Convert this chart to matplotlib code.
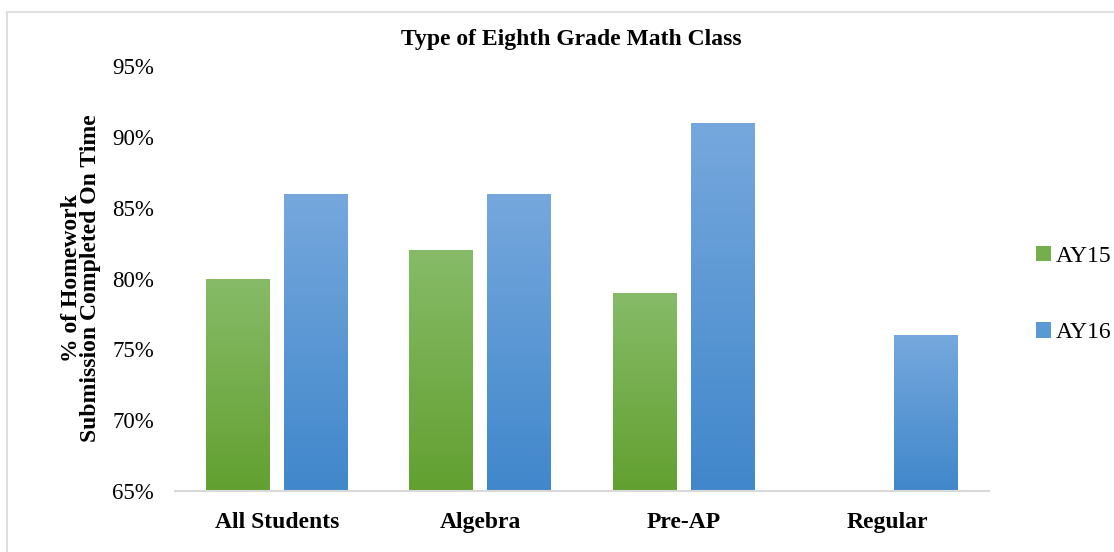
import matplotlib.pyplot as plt
import numpy as np
from matplotlib.patches import Rectangle, Patch
from matplotlib.colors import LinearSegmentedColormap

categories = ["All Students", "Algebra", "Pre-AP", "Regular"]
ay15 = [80, 82, 79, np.nan]
ay16 = [86, 86, 91, 76]
yticks = [65, 70, 75, 80, 85, 90, 95]

plt.rcParams['font.family'] = ['Liberation Serif', 'DejaVu Serif']

fig = plt.figure(figsize=(11.14, 5.52), dpi=100)
ax = fig.add_axes([0.157, 0.1105, 0.731, 0.7699])

# light frame around the whole chart (right and bottom edges fall outside the image)
fig.patches.append(Rectangle((7/1114, -0.2), 1.2, 1.2 - 12/552, transform=fig.transFigure,
                             fill=False, edgecolor='#d9d9d9', linewidth=1.2))

x = np.arange(len(categories))
w = 0.314
off = (w + 0.069) / 2
base = 65
b15 = ax.bar(x - off, np.array(ay15) - base, w, bottom=base, color='none', label='AY15')
b16 = ax.bar(x + off, np.array(ay16) - base, w, bottom=base, color='none', label='AY16')

green = ['#62a030', '#87bb68']
blue = ['#4087cb', '#76a8dd']

def fill_gradient(bars, cols):
    cmap = LinearSegmentedColormap.from_list('g', cols)
    grad = np.linspace(0, 1, 256).reshape(-1, 1)
    for b in bars:
        h = b.get_height()
        if not np.isfinite(h):
            continue
        x0 = b.get_x()
        y0 = b.get_y()
        im = ax.imshow(grad, cmap=cmap, aspect='auto', origin='lower',
                       extent=(x0, x0 + b.get_width(), y0, y0 + h), zorder=2)
        im.set_clip_path(b)

fill_gradient(b15, green)
fill_gradient(b16, blue)

ax.set_xlim(-0.5, 3.5)
ax.set_ylim(65, 95)
ax.set_yticks(yticks)
ax.set_yticklabels([f"{t}%" for t in yticks], fontsize=16.5)
ax.set_xticks(x)
ax.set_xticklabels(categories, fontsize=17, fontweight='bold')
ax.tick_params(axis='both', length=0)
ax.tick_params(axis='y', pad=15)
ax.tick_params(axis='x', pad=15)
for s in ['top', 'right', 'left']:
    ax.spines[s].set_visible(False)
ax.spines['bottom'].set_color('#d9d9d9')
ax.spines['bottom'].set_linewidth(1.5)

ax.set_ylabel("% of Homework\nSubmission Completed On Time", fontsize=17,
              fontweight='bold', linespacing=0.9, labelpad=8)
fig.text(571/1114, 1 - 40/552, "Type of Eighth Grade Math Class", ha='center', va='center',
         fontsize=17, fontweight='bold')

handles = [Patch(facecolor='#74ae4d'), Patch(facecolor='#5b98d6')]
fig.legend(handles, ['AY15', 'AY16'], loc='center left', bbox_to_anchor=(0.930, 0.4665),
           frameon=False, fontsize=17, handlelength=0.65, handleheight=0.65,
           handletextpad=0.2, labelspacing=2.35, borderpad=0, borderaxespad=0)

fig.savefig("out.png", dpi=100)
